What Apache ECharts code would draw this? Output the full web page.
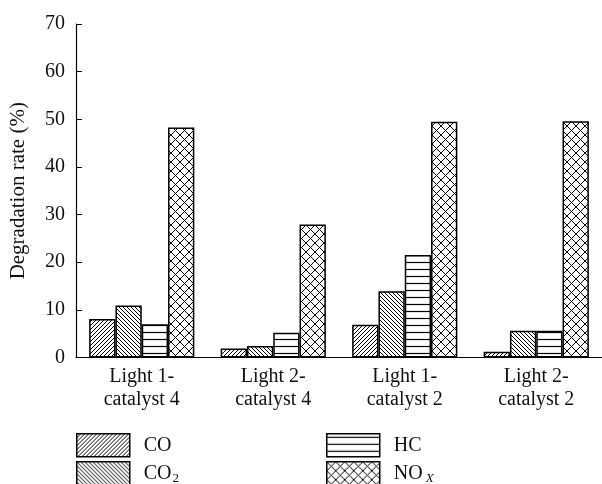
<!DOCTYPE html>
<html>
<head>
<meta charset="utf-8">
<script src="https://cdn.jsdelivr.net/npm/echarts@6/dist/echarts.min.js"></script>
<style>
  html, body { margin: 0; padding: 0; background: #fff; }
  #chart { width: 602px; height: 484px; }
</style>
</head>
<body>
<div id="chart"></div>
<script>
// Degradation rate of each exhaust component per light / catalyst combination
const categories = ['Light 1-\ncatalyst 4', 'Light 2-\ncatalyst 4', 'Light 1-\ncatalyst 2', 'Light 2-\ncatalyst 2'];
const seriesNames = ['CO', 'CO2', 'HC', 'NOx'];
const coValues  = [8.1, 1.9, 6.9, 1.2];
const co2Values = [10.9, 2.4, 13.9, 5.6];
const hcValues  = [7.0, 5.2, 21.5, 5.6];
const noxValues = [48.3, 27.9, 49.5, 49.6];
const yTicks = [0, 10, 20, 30, 40, 50, 60, 70];

const FONT = '"Liberation Serif", "DejaVu Serif", serif';

// Hatch fills drawn into small tiles and used as repeating patterns
function makeTile(size, draw) {
  const c = document.createElement('canvas');
  c.width = size; c.height = size;
  const ctx = c.getContext('2d');
  ctx.fillStyle = '#fff';
  ctx.fillRect(0, 0, size, size);
  ctx.strokeStyle = '#000';
  ctx.lineWidth = 1;
  draw(ctx, size);
  return { image: c, repeat: 'repeat' };
}
function diagUp(ctx, s) {   // "/" lines
  ctx.beginPath();
  for (let k = -1; k <= 1; k++) {
    ctx.moveTo(k * s, s); ctx.lineTo(k * s + s, 0);
  }
  ctx.stroke();
}
function diagDown(ctx, s) { // "\" lines
  ctx.beginPath();
  for (let k = -1; k <= 1; k++) {
    ctx.moveTo(k * s, 0); ctx.lineTo(k * s + s, s);
  }
  ctx.stroke();
}
const patterns = {
  CO: makeTile(4, diagUp),
  CO2: makeTile(4, diagDown),
  HC: makeTile(7, (ctx, s) => {
    ctx.lineWidth = 1.2;
    ctx.beginPath(); ctx.moveTo(0, 3.5); ctx.lineTo(s, 3.5); ctx.stroke();
  }),
  NOx: makeTile(9, (ctx, s) => { diagUp(ctx, s); diagDown(ctx, s); })
};

const valuesByName = { CO: coValues, CO2: co2Values, HC: hcValues, NOx: noxValues };

const series = seriesNames.map(name => ({
  name: name,
  type: 'bar',
  data: valuesByName[name],
  barGap: '0%',
  barCategoryGap: '20%',
  itemStyle: { color: patterns[name], borderColor: '#000', borderWidth: 1.5 },
  emphasis: { disabled: true }
}));

// Legend labels with chemical subscripts
const legendRich = {
  n: { fontFamily: FONT, fontSize: 20, lineHeight: 24, color: '#111' },
  sub: { fontFamily: FONT, fontSize: 13, lineHeight: 13, verticalAlign: 'bottom', color: '#111', padding: [0, 0, 0, 1] },
  subi: { fontFamily: FONT, fontSize: 13, lineHeight: 13, verticalAlign: 'bottom', fontStyle: 'italic', color: '#111', padding: [0, 0, 0, 3] }
};
function legendLabel(name) {
  if (name === 'CO2') return '{n|CO}{sub|2}';
  if (name === 'NOx') return '{n|NO}{subi|X}';
  return '{n|' + name + '}';
}
function legendItem(name, left, top) {
  return {
    data: [name],
    left: left,
    top: top,
    padding: 0,
    itemWidth: 53,
    itemHeight: 23,
    icon: 'rect',
    selectedMode: false,
    formatter: legendLabel,
    textStyle: { rich: legendRich, padding: [0, 0, 0, 9] },
    itemStyle: { borderColor: '#000', borderWidth: 1.5 }
  };
}

const option = {
  animation: false,
  backgroundColor: '#fff',
  grid: { left: 76, width: 530, top: 24, bottom: 126.5, containLabel: false },
  legend: [
    legendItem('CO', 76, 433),
    legendItem('CO2', 76, 461),
    legendItem('HC', 326, 433),
    legendItem('NOx', 326, 461)
  ],
  xAxis: {
    type: 'category',
    data: categories,
    axisLine: { lineStyle: { color: '#000', width: 1.2 } },
    axisTick: { show: false },
    axisLabel: { color: '#111', fontFamily: FONT, fontSize: 20, lineHeight: 23, margin: 8 }
  },
  yAxis: {
    type: 'value',
    min: yTicks[0],
    max: yTicks[yTicks.length - 1],
    interval: 10,
    name: 'Degradation rate (%)',
    nameLocation: 'middle',
    nameGap: 47,
    nameTextStyle: { color: '#111', fontFamily: FONT, fontSize: 21 },
    axisLine: { show: true, lineStyle: { color: '#000', width: 1.2 } },
    axisTick: { show: true, inside: true, length: 6, lineStyle: { color: '#000' } },
    splitLine: { show: false },
    axisLabel: { color: '#111', fontFamily: FONT, fontSize: 20, margin: 11 }
  },
  series: series
};

const chart = echarts.init(document.getElementById('chart'));
chart.setOption(option);
</script>
</body>
</html>
